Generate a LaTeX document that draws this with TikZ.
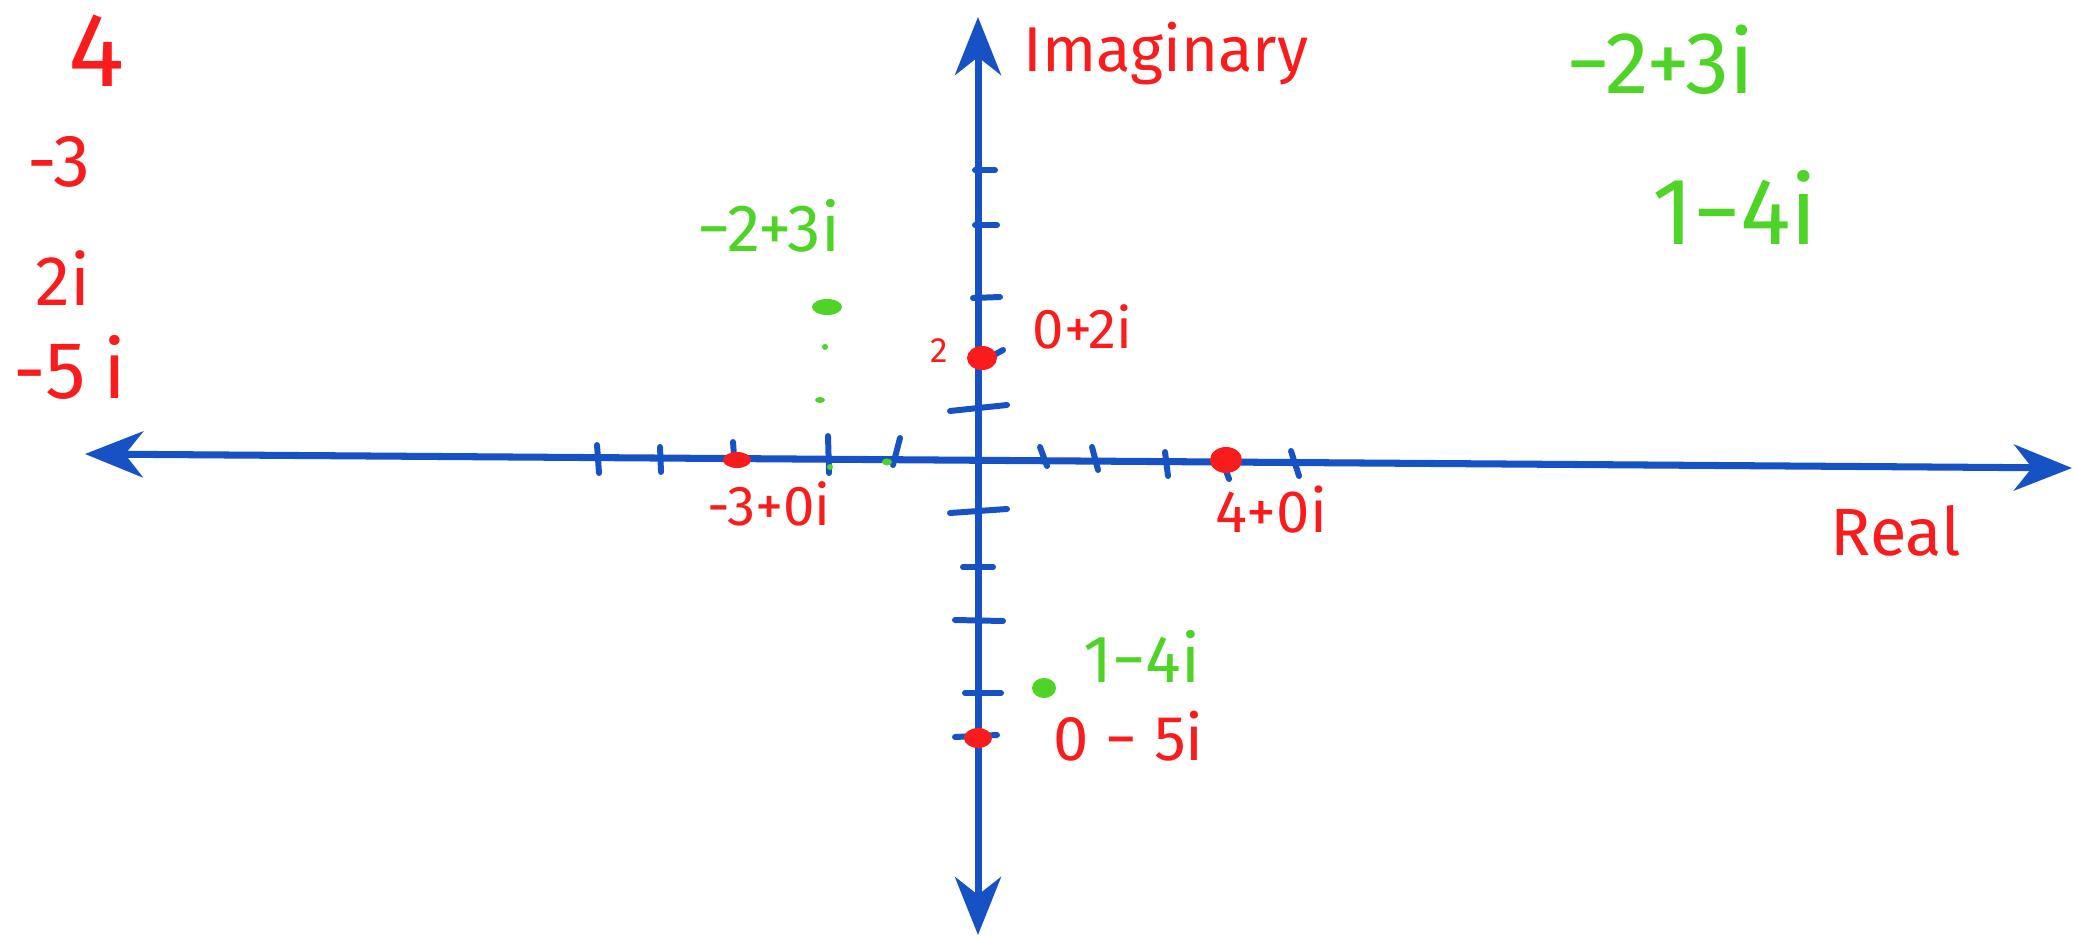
\documentclass[tikz,border=0pt]{standalone}
\usepackage{fontspec}
\setmainfont{Fira Sans}
\usetikzlibrary{arrows.meta}
\definecolor{axisblue}{RGB}{23,82,197}
\definecolor{penred}{RGB}{250,28,28}
\definecolor{pengreen}{RGB}{77,212,38}
\tikzset{
  axis/.style  = {draw=axisblue, line width=2pt, >={Stealth[length=5.8mm, width=4.6mm, inset=1.8mm]}},
  tick/.style  = {draw=axisblue, line width=1.7pt, line cap=round},
  rlab/.style  = {text=penred, inner sep=0pt, anchor=base west, font=\fontsize{#1}{#1}\selectfont},
  glab/.style  = {text=pengreen, inner sep=0pt, anchor=base west, font=\fontsize{#1}{#1}\selectfont},
  rdot/.style  = {fill=penred},
  gdot/.style  = {fill=pengreen},
}

\begin{document}
\begin{tikzpicture}[x=0.01cm, y=-0.01cm]
  \useasboundingbox (0,0) rectangle (2077,937);
  % axes
  \coordinate (xl) at (85,454);
  \coordinate (xr) at (2072,468);
  \coordinate (yt) at (978,17);
  \coordinate (yb) at (978,935);
  \draw[axis, <->] (xl) -- (xr);
  \draw[axis, <->] (yt) -- (yb);
  % ticks on the real axis
  \foreach \a/\b/\c/\d in {597/445/599/473, 660/447/661/472, 733/442/734/456,
      828/436/829/473, 900/438/893/465, 1040/447/1047/466, 1092/447/1098/470,
      1165/452/1168/476, 1225/468/1229/479, 1291/451/1299/476}
    \draw[tick] (\a,\b) -- (\c,\d);
  % ticks on the imaginary axis
  \foreach \a/\b/\c/\d in {975/170/995/170, 975/225/997/225, 973/298/1000/297,
      985/360/1003/350, 950/411/1007/405, 950/513/1007/509, 963/567/993/567,
      955/620/1003/621, 965/693/1001/693, 955/737/997/735}
    \draw[tick] (\a,\b) -- (\c,\d);
  % points
  \fill[rdot] (982,358) ellipse (15 and 12);
  \fill[rdot] (1226,460) ellipse (16 and 13);
  \fill[rdot] (737,460) ellipse (14 and 8);
  \fill[rdot] (978,738) ellipse (14 and 10);
  \fill[gdot] (827,307) ellipse (15 and 8);
  \fill[gdot] (825,347) ellipse (3 and 3);
  \fill[gdot] (820,400) ellipse (5 and 3);
  \fill[gdot] (830,467) ellipse (3 and 3);
  \fill[gdot] (887,462) ellipse (5 and 3.5);
  \fill[gdot] (1044,688) ellipse (12 and 10);
  % axis names
  \node[rlab=18pt] (im) at (1023,72) {Imaginary};
  \node[rlab=19pt] (re) at (1830,555) {Real};
  % point labels
  \node[rlab=10pt] (two) at (930,363) {2};
  \node[rlab=16pt] (p2i) at (1032,348) {0+2i};
  \node[rlab=16pt] (pm3) at (707,525) {-3+0i};
  \node[rlab=17pt] (p4) at (1215,532) {4+0i};
  \node[rlab=18pt] (pm5i) at (1053,760) {0 − 5i};
  \node[glab=19pt] (pa) at (697,252) {−2+3i};
  \node[glab=19pt] (pb) at (1083,682) {1−4i};
  % list on the left
  \node[rlab=30pt] (l1) at (68,87) {4};
  \node[rlab=21pt] (l2) at (27,187) {-3};
  \node[rlab=20pt] (l3) at (35,305) {2i};
  \node[rlab=23pt] (l4) at (13,398) {-5\kern5pt i};
  % list on the right
  \node[glab=25pt] (r1) at (1566,94) {−2+3i};
  \node[glab=27pt] (r2) at (1652,245) {1−4i};
\end{tikzpicture}
\end{document}
